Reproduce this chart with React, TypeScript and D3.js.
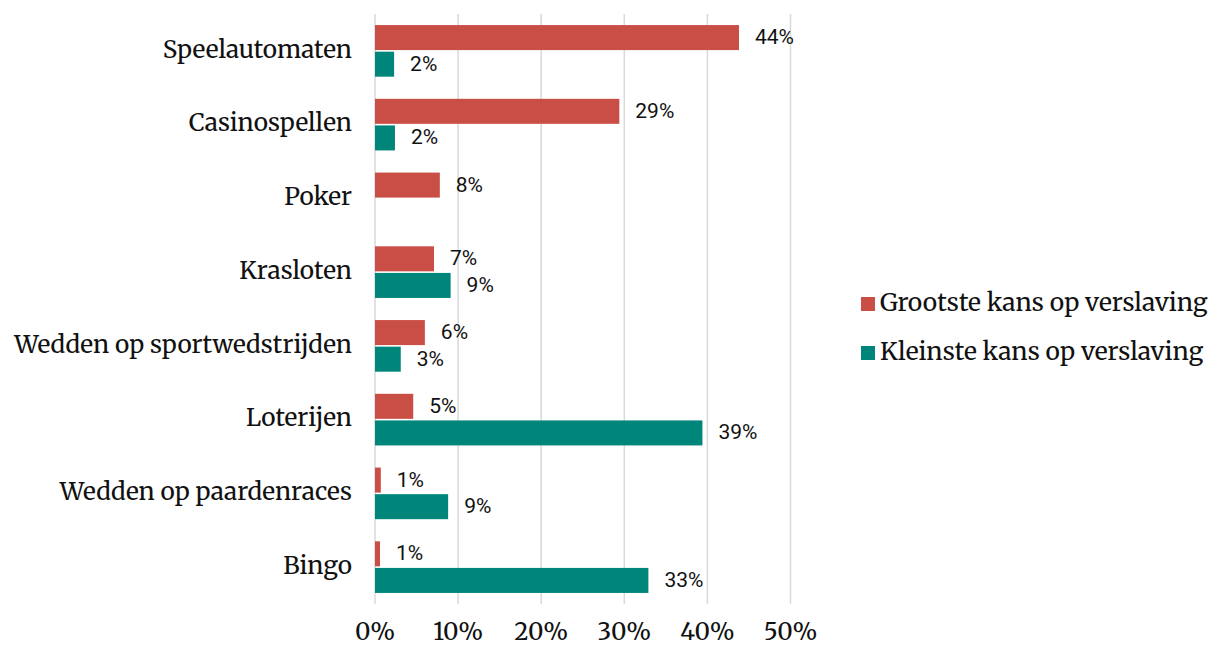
import React from "react";
import * as d3 from "d3";

const categories = [
  "Speelautomaten",
  "Casinospellen",
  "Poker",
  "Krasloten",
  "Wedden op sportwedstrijden",
  "Loterijen",
  "Wedden op paardenraces",
  "Bingo",
];
const grootsteValues: (number | null)[] = [43.8, 29.4, 7.8, 7.1, 6.0, 4.6, 0.7, 0.6];
const kleinsteValues: (number | null)[] = [2.3, 2.4, null, 9.1, 3.1, 39.4, 8.8, 32.9];
const seriesNames = ["Grootste kans op verslaving", "Kleinste kans op verslaving"];
const seriesColors = ["#C94E45", "#00857A"];
const xTicks = [0, 10, 20, 30, 40, 50];

const W = 1211;
const H = 648;
const serif = "Merriweather, 'DejaVu Serif', serif";
const sans = "Roboto, 'Noto Sans', sans-serif";

export default function App() {
  const x = d3.scaleLinear().domain([0, 50]).range([375, 790.5]);
  const y = d3.scaleBand<string>().domain(categories).range([14, 604]).paddingInner(0.3).paddingOuter(0.15);
  const inner = d3.scaleBand<number>().domain([0, 1]).range([0, y.bandwidth()]).paddingInner(0.06);
  const series = [grootsteValues, kleinsteValues];
  const fmt = (v: number) => `${Math.round(v)}%`;

  return (
    <svg width={W} height={H} style={{ position: "absolute", left: 0, top: 0 }}>
      <rect width={W} height={H} fill="#fff" />
      {xTicks.map((t) => (
        <g key={t}>
          <line x1={x(t)} x2={x(t)} y1={14} y2={604} stroke="#d9d9d9" strokeWidth={1.5} />
          <text x={x(t)} y={633} textAnchor="middle" dominantBaseline="middle" fontFamily={serif} fontSize={24} fill="#111">
            {t}%
          </text>
        </g>
      ))}
      {categories.map((c, i) => (
        <g key={c}>
          <text
            x={352}
            y={(y(c) as number) + y.bandwidth() / 2}
            textAnchor="end"
            dominantBaseline="middle"
            fontFamily={serif}
            fontSize={24.4}
            fill="#111"
          >
            {c}
          </text>
          {series.map((vals, s) => {
            const v = vals[i];
            if (v == null) return null;
            const by = (y(c) as number) + (inner(s) as number);
            return (
              <g key={s}>
                <rect x={x(0)} y={by} width={x(v) - x(0)} height={inner.bandwidth()} fill={seriesColors[s]} />
                <text
                  x={x(v) + 16}
                  y={by + inner.bandwidth() / 2 + 1}
                  dominantBaseline="middle"
                  fontFamily={sans}
                  fontSize={21}
                  fill="#111"
                >
                  {fmt(v)}
                </text>
              </g>
            );
          })}
        </g>
      ))}
      {seriesNames.map((n, s) => (
        <g key={n}>
          <rect x={861} y={297 + s * 49} width={14} height={14} fill={seriesColors[s]} />
          <text x={880} y={304 + s * 49} dominantBaseline="middle" fontFamily={serif} fontSize={24.6} fill="#111">
            {n}
          </text>
        </g>
      ))}
    </svg>
  );
}
